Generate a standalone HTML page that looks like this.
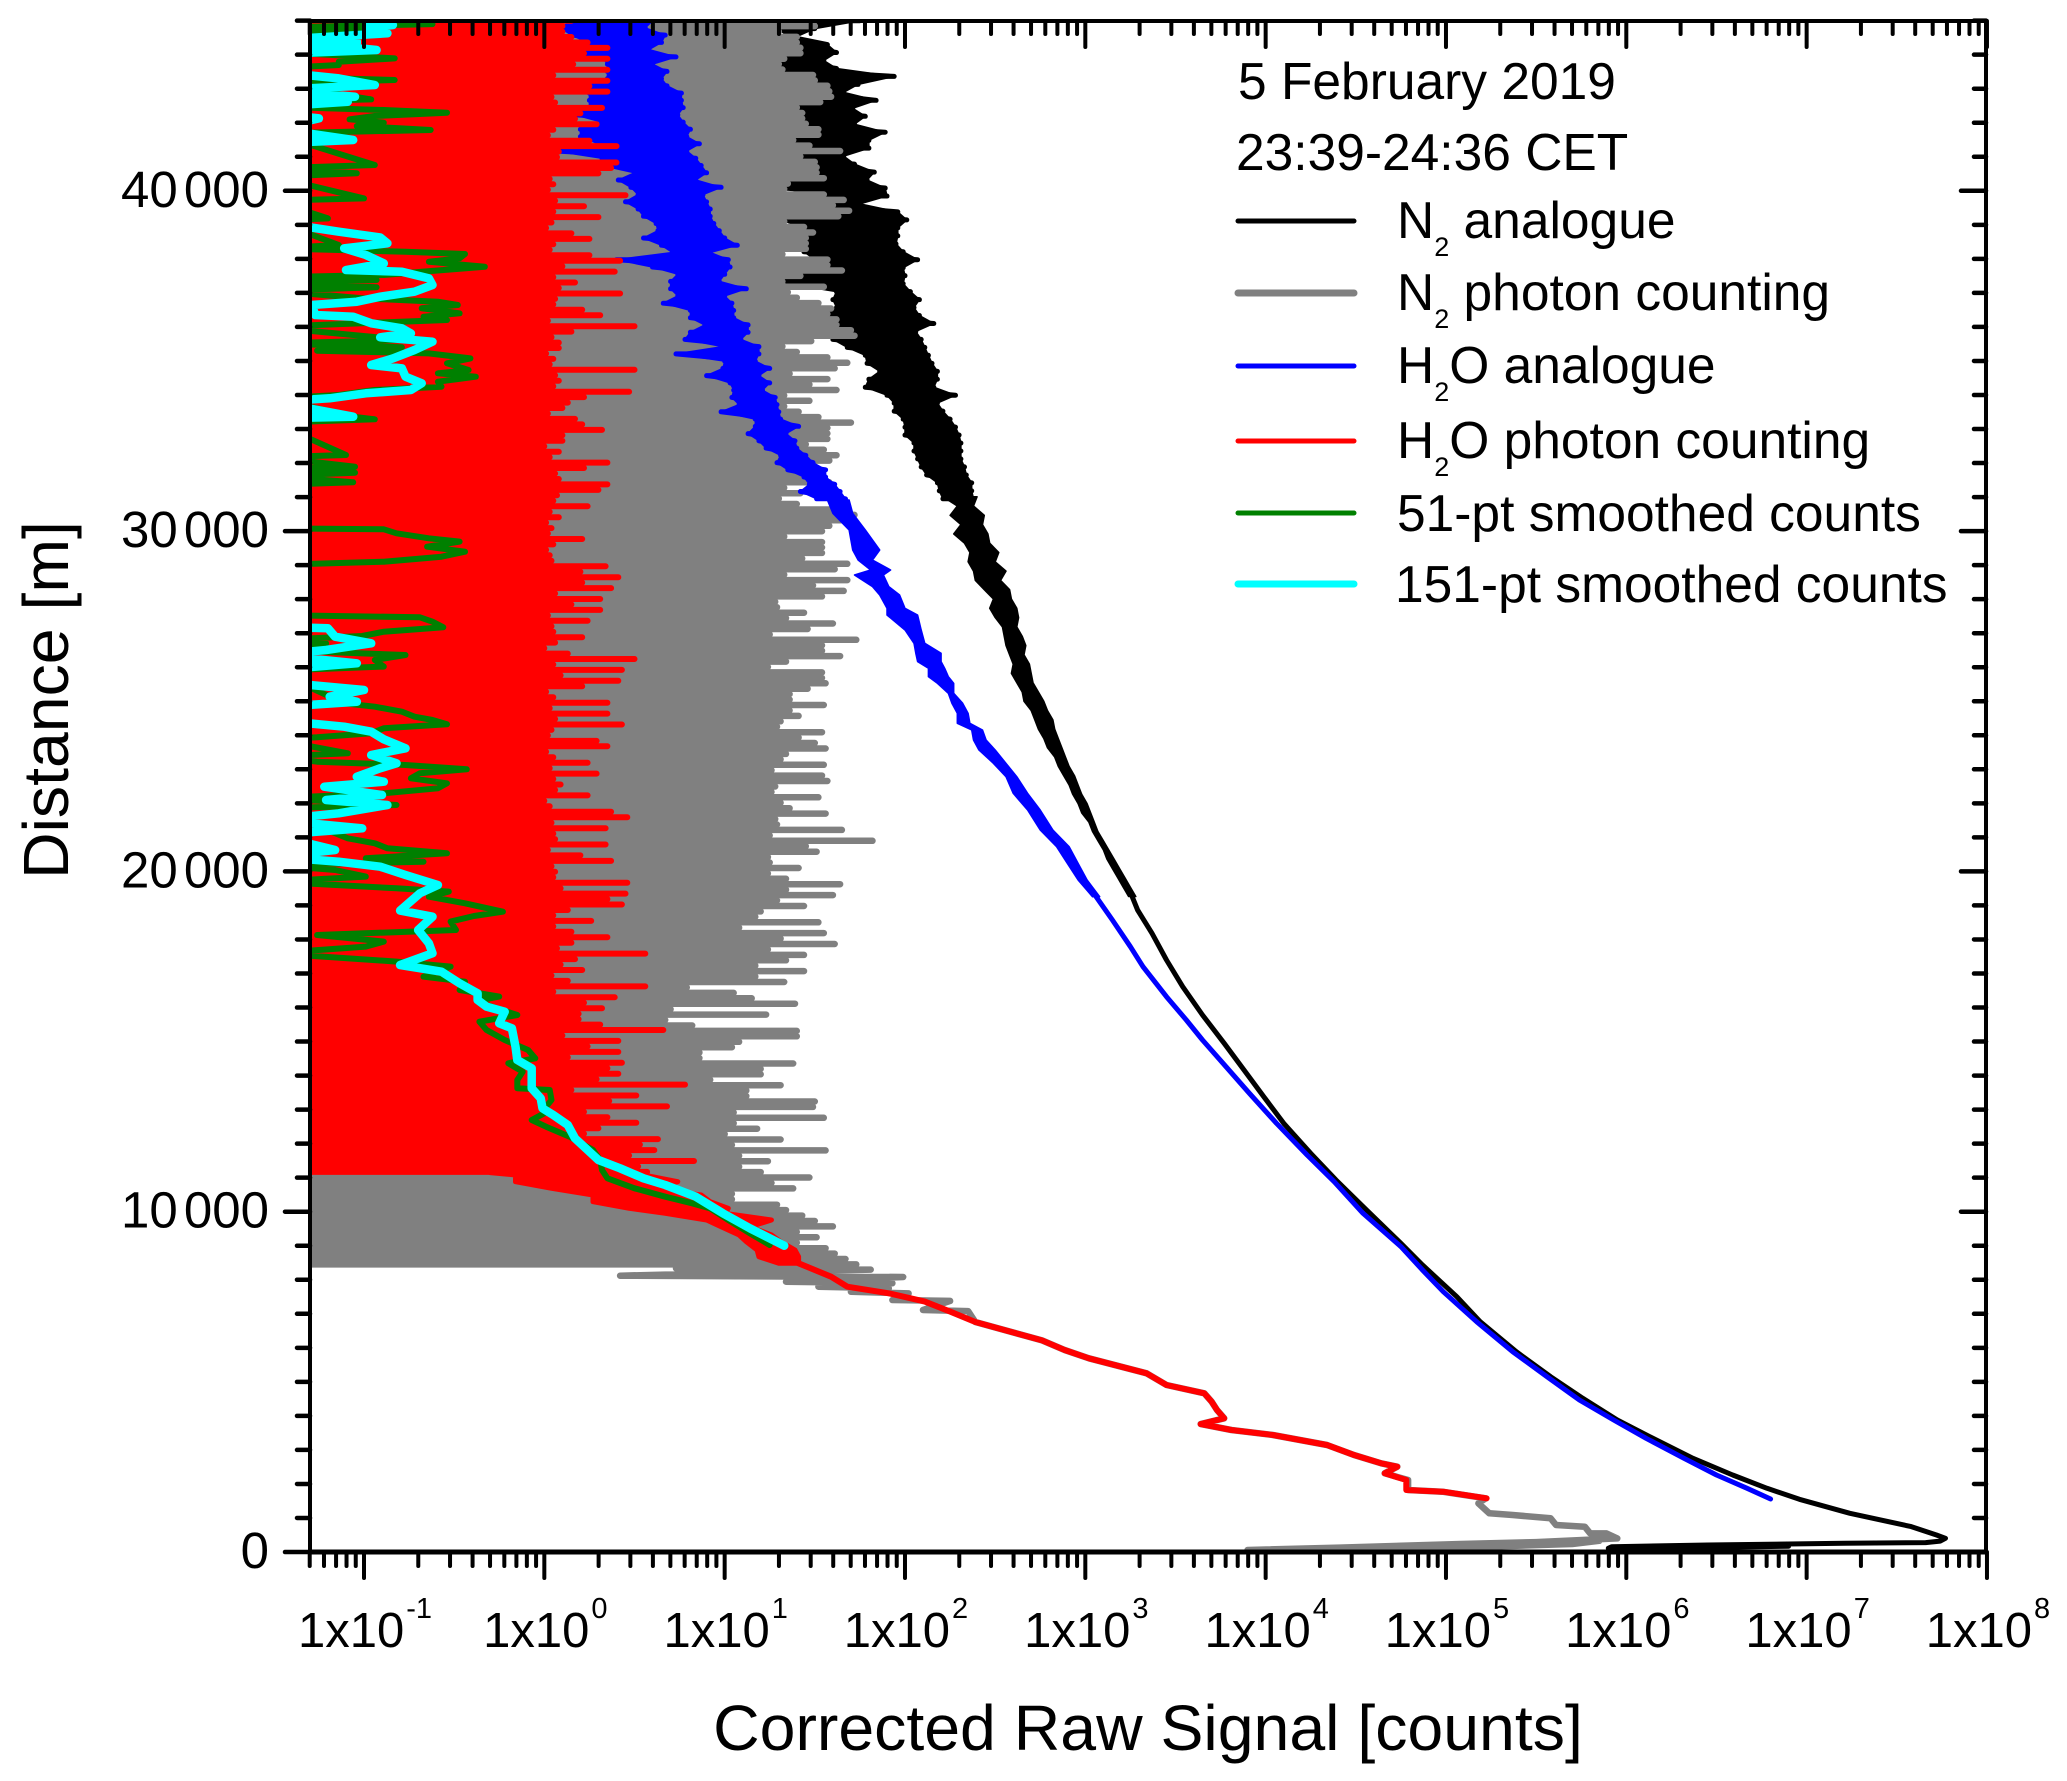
<!DOCTYPE html>
<html lang="en">
<head>
<meta charset="utf-8">
<title>Corrected Raw Signal vs Distance</title>
<style>
html,body{margin:0;padding:0;background:#fff}
svg{display:block}
text{font-family:"Liberation Sans",Arial,sans-serif;fill:#000}
.series{fill:none;stroke-linecap:round;stroke-linejoin:round}
.band{stroke-linejoin:round}
</style>
</head>
<body>
<svg id="chart" xmlns="http://www.w3.org/2000/svg" width="2067" height="1781" viewBox="0 0 2067 1781">
<defs><clipPath id="plot-clip"><rect x="310" y="20" width="1676" height="1532"/></clipPath></defs>
<rect x="0" y="0" width="2067" height="1781" fill="#fff"/>
<g clip-path="url(#plot-clip)">
<path id="b-black" class="band" fill="#000" stroke="#000" stroke-width="1.5"/>
<path id="s-black" class="series" stroke="#000" stroke-width="5"/>
<path id="s-gray" class="series" stroke="#808080" stroke-width="6.5"/>
<path id="b-blue" class="band" fill="#0000ff" stroke="#0000ff" stroke-width="1.5"/>
<path id="s-blue" class="series" stroke="#0000ff" stroke-width="5"/>
<path id="b-red" class="band" fill="#ff0000" stroke="#ff0000" stroke-width="5"/>
<path id="s-red" class="series" stroke="#ff0000" stroke-width="6"/>
<path id="s-green" class="series" stroke="#008000" stroke-width="6"/>
<path id="s-cyan" class="series" stroke="#00ffff" stroke-width="8.5"/>
</g>
<g id="axes"></g>
<rect x="310" y="21" width="1676" height="1531" fill="none" stroke="#000" stroke-width="4"/>
<line x1="308" y1="1552" x2="1988" y2="1552" stroke="#000" stroke-width="5"/>
<text x="1148" y="1750" font-size="64.4" text-anchor="middle">Corrected Raw Signal [counts]</text>
<text transform="translate(68,700) rotate(-90)" font-size="64.4" text-anchor="middle">Distance [m]</text>
<g>
<text x="1238" y="99" font-size="51.5">5 February 2019</text>
<text x="1236" y="170" font-size="51.5">23:39-24:36 CET</text>
<line x1="1238" y1="221" x2="1354" y2="221" stroke="#000" stroke-width="5" stroke-linecap="round"/>
<text x="1397" y="238" font-size="51.5">N<tspan font-size="27" dy="18">2</tspan><tspan dy="-18"> analogue</tspan></text>
<line x1="1238" y1="293" x2="1354" y2="293" stroke="#808080" stroke-width="7" stroke-linecap="round"/>
<text x="1397" y="310" font-size="51.5">N<tspan font-size="27" dy="18">2</tspan><tspan dy="-18"> photon counting</tspan></text>
<line x1="1238" y1="366" x2="1354" y2="366" stroke="#0000ff" stroke-width="5" stroke-linecap="round"/>
<text x="1397" y="383" font-size="51.5">H<tspan font-size="27" dy="18">2</tspan><tspan dy="-18">O analogue</tspan></text>
<line x1="1238" y1="441" x2="1354" y2="441" stroke="#ff0000" stroke-width="5" stroke-linecap="round"/>
<text x="1397" y="458" font-size="51.5">H<tspan font-size="27" dy="18">2</tspan><tspan dy="-18">O photon counting</tspan></text>
<line x1="1238" y1="513" x2="1354" y2="513" stroke="#008000" stroke-width="5" stroke-linecap="round"/>
<text x="1397" y="531" font-size="51.5">51-pt smoothed counts</text>
<line x1="1238" y1="584" x2="1354" y2="584" stroke="#00ffff" stroke-width="7" stroke-linecap="round"/>
<text x="1395" y="602" font-size="51.5">151-pt smoothed counts</text>
</g>
</svg>
<script>
// Tick data
const xTickExponents = [-1,0,1,2,3,4,5,6,7,8];
const xMinorMultipliers = [2,3,4,5,6,7,8,9];
const yTickValues = [0,10000,20000,30000,40000];
const yTickLabels = ['0','10 000','20 000','30 000','40 000'];

// All signal values are log10(counts). -1.5 = zero counts, off-scale left.
// N2 photon counting: upper envelope per range bin, 45000 m to 8450 m
const n2PhotonHigh = [1.50,1.50,1.30,1.40,1.40,1.42,1.42,1.33,1.30,1.32,1.49,1.50,1.57,1.58,1.59,1.53,1.40,1.43,1.43,1.45,1.52,1.52,1.38,1.47,1.64,1.42,1.50,1.51,1.51,1.55,1.35,1.33,1.55,1.66,1.60,1.69,1.63,1.33,1.44,1.49,1.45,1.45,1.45,1.32,1.57,1.57,1.65,1.42,1.32,1.55,1.35,1.40,1.52,1.59,1.57,1.62,1.62,1.70,1.72,1.48,1.32,1.40,1.57,1.68,1.61,1.36,1.57,1.47,1.62,1.33,1.47,1.33,1.41,1.52,1.70,1.57,1.57,1.57,1.45,1.55,1.62,1.58,1.44,1.50,1.53,1.58,1.33,1.42,1.30,1.40,1.64,1.72,1.66,1.58,
1.54,1.33,1.54,1.54,1.54,1.43,1.68,1.61,1.33,1.68,1.49,1.66,1.54,1.28,1.29,1.44,1.34,1.60,1.46,1.25,1.73,1.54,1.54,1.64,1.34,1.24,1.54,1.54,1.56,1.46,1.36,1.36,1.55,1.36,1.41,1.31,1.29,1.54,1.41,1.50,1.56,1.34,1.31,1.55,1.26,1.54,1.57,1.28,1.26,1.52,1.31,1.36,1.56,1.28,1.29,1.65,1.25,1.82,1.45,1.51,1.24,1.25,1.41,1.24,1.34,1.64,1.34,1.60,1.29,1.44,1.20,1.17,1.52,1.08,1.55,1.31,1.61,1.24,1.44,1.34,1.17,1.44,1.17,1.33,0.79,1.05,1.15,1.39,0.70,1.23,0.67,0.82,1.40,
1.40,1.08,1.04,0.86,0.86,1.38,1.20,1.20,0.92,1.31,1.12,1.12,1.50,1.49,1.05,1.55,1.05,1.18,1.00,1.31,1.04,1.56,1.08,1.24,1.08,1.20,1.47,1.26,1.38,1.04,1.04,1.29,1.34,1.43,1.50,1.60,1.40,1.51,1.40,1.56,1.61,1.67,1.73];
// N2 photon counting below the filled region
const n2PhotonLineDistance = [8336,8300,8120,8080,7944,7900,7797,7750,7650,7600,7405,7380,7110,7080,6760,6218,5936,5691,5250,4907,4663,4420,4173,3928,3760,3585,3438,3145,2850,2606,2508,2312,2116,1822,1773,1577,1430,1136,1087,989,793,744,548,548,401,290,235,130,59,80,150,235,330];
const n2PhotonLineLog = [0.73,1.81,0.42,1.99,1.34,1.93,1.52,1.91,1.70,2.02,1.93,2.25,2.10,2.35,2.39,2.76,2.885,3.02,3.34,3.45,3.66,3.70,3.73,3.77,3.64,3.81,4.04,4.34,4.49,4.64,4.73,4.66,4.79,4.79,4.98,5.22,5.18,5.24,5.37,5.58,5.61,5.77,5.80,5.89,5.95,5.5,5.08,4.41,3.90,4.6,5.2,5.7,5.85];

// H2O photon counting: upper envelope per range bin, 45000 m to 11170 m
const h2oPhotonHigh = [.15,.10,.10,.15,.24,.35,.22,.35,.16,.35,.05,.35,.25,.35,.04,.06,.32,.20,.17,.29,.05,.02,.25,.40,.08,.07,.40,.37,.30,.03,.05,.02,.45,.06,.22,.05,.30,.04,.01,.15,.25,.05,.03,.25,.42,.10,.39,.05,.17,.08,.42,.06,.05,.21,.31,.02,.50,.15,.04,.08,.08,.01,.05,.03,.50,.06,.08,.05,.47,.22,.13,.10,.02,.17,.21,.32,.10,.10,.00,.08,.03,.35,.22,.06,.08,.35,.30,.07,.05,.24,.03,.08,.01,.04,
.02,.21,.05,.01,.03,.04,.34,.20,.41,.21,.37,.06,.31,.15,.31,.02,.24,.04,.05,.21,.06,.00,.13,.50,.05,.43,.09,.41,.21,.01,.05,.35,.03,.35,.06,.43,.04,.02,.29,.35,.01,.05,.24,.03,.29,.05,.09,.06,.24,.00,.03,.37,.46,.04,.34,.05,.06,.34,.02,.20,.37,.04,.06,.05,.46,.09,.45,.35,.43,.13,.05,.26,.05,.15,.35,.15,.07,.56,.17,.09,.21,.04,.13,.56,.05,.39,.22,.32,.19,
.19,.31,.66,.10,.41,.24,.41,.13,.43,.35,.41,.29,.78,.15,.51,.36,.68,.22,.35,.51,.30,.22,.63,.53,.61,.47,.83,.52,.57];
// H2O photon counting: noisy band below the filled region
const h2oPhotonBandDistance = [11150,11079,10883,10687,10491,10295,10099,9952,9756,9560,9315,9120,8875,8679,8483];
const h2oPhotonBandLow = [-.30,-.16,-.16,.04,.27,.27,.47,.67,.90,.98,1.08,1.12,1.18,1.19,1.30];
const h2oPhotonBandHigh = [.55,.55,.74,.60,.87,.92,1.02,1.00,1.26,1.14,1.26,1.31,1.39,1.41,1.41];
// H2O photon counting: single line
const h2oPhotonLineDistance = [8483,8091,7797,7601,7357,7063,6760,6218,5936,5691,5250,4907,4663,4420,4173,3928,3760,3585,3438,3145,2850,2606,2508,2312,2116,1822,1773,1577];
const h2oPhotonLineLog = [1.41,1.59,1.68,1.91,2.11,2.25,2.39,2.76,2.885,3.02,3.34,3.45,3.66,3.70,3.73,3.77,3.64,3.81,4.04,4.34,4.49,4.64,4.73,4.66,4.78,4.78,4.985,5.225];

// H2O analogue: noisy band, 45000 m to 30950 m
const h2oAnalogueLow = [.15,.09,.15,.24,-.25,.32,.35,.35,.35,.27,.25,.25,.25,.17,.32,.20,.20,.30,.06,.32,.32,.50,.41,.48,.52,.45,.52,.55,.62,.63,.55,.65,.71,.40,.60,.74,.70,.70,.74,.66,.81,.81,.89,.81,.78,.99,.73,1.0,.99,.90,1.03,1.05,1.04,1.08,.98,1.17,1.17,1.13,1.19,1.23,1.31,1.29,1.35,1.44,1.47,1.42,1.51];
const h2oAnalogueHigh = [.60,.56,.67,.65,.58,.73,.60,.68,.65,.68,.76,.76,.77,.74,.77,.81,.79,.86,.79,.84,.87,.90,.84,.98,.88,.90,.92,.92,.94,.97,1.00,1.07,.92,1.02,1.03,1.0,.97,1.12,1.0,1.04,1.05,1.05,1.13,1.13,1.09,1.19,1.19,1.17,1.25,1.19,1.25,1.21,1.28,1.29,1.30,1.31,1.41,1.34,1.39,1.40,1.45,1.49,1.56,1.56,1.61,1.64,1.67];
// H2O analogue: narrower band, 30914 m to 19258 m
const h2oAnalogueMidDistance = [30914,30523,30033,29445,29151,28857,28710,28368,28123,27731,27535,27094,26702,26409,26164,25968,25723,25527,25233,24939,24646,24352,24156,23862,23568,23176,22784,22295,21805,21217,20728,20238,19748,19258];
const h2oAnalogueMidLow = [1.57,1.60,1.69,1.71,1.74,1.81,1.72,1.82,1.86,1.90,1.90,2.00,2.05,2.06,2.07,2.13,2.13,2.18,2.24,2.26,2.29,2.29,2.37,2.38,2.41,2.49,2.56,2.60,2.68,2.75,2.84,2.90,2.96,3.04];
const h2oAnalogueMidHigh = [1.69,1.71,1.78,1.86,1.82,1.92,1.88,1.91,1.97,2.00,2.07,2.09,2.11,2.20,2.20,2.22,2.24,2.27,2.27,2.32,2.35,2.36,2.43,2.45,2.50,2.56,2.62,2.68,2.75,2.82,2.91,2.96,3.01,3.08];
// H2O analogue: smooth lower part
const h2oAnalogueLineDistance = [19258,18572,17788,17200,16319,15633,15045,14262,13478,12597,11666,10883,9952,8973,8287,7650,6768,5887,5152,4466,3879,3340,2752,2262,1871,1557];
const h2oAnalogueLineLog = [3.06,3.15,3.25,3.32,3.45,3.56,3.65,3.78,3.91,4.06,4.23,4.38,4.54,4.75,4.87,4.985,5.17,5.37,5.56,5.74,5.93,6.11,6.32,6.50,6.67,6.80];

// N2 analogue: noisy band, 45000 m to 30950 m
const n2AnalogueHigh = [1.75,1.50,1.40,1.57,1.62,1.55,1.62,1.94,1.74,1.66,1.84,1.71,1.78,1.72,1.89,1.80,1.80,1.66,1.72,1.83,1.79,1.89,1.90,1.75,1.96,2.01,1.96,1.96,1.95,1.99,2.07,1.99,2.0,1.99,2.03,2.08,2.05,2.08,2.16,2.06,2.09,2.11,2.13,2.15,2.18,2.18,2.16,2.28,2.18,2.21,2.25,2.28,2.30,2.31,2.31,2.31,2.33,2.34,2.37,2.37,2.38];
const n2AnalogueLow = [1.26,1.30,1.35,1.35,1.35,1.33,1.20,1.23,1.40,1.45,1.45,1.33,1.42,1.20,1.36,1.40,1.45,1.15,1.45,1.50,1.33,1.33,1.50,1.45,1.31,1.31,1.44,1.44,1.44,1.44,1.50,1.50,1.26,1.35,1.62,1.60,1.62,1.55,1.48,1.65,1.60,1.68,1.78,1.79,1.86,1.80,1.78,1.90,1.94,1.94,1.99,2.0,2.0,2.05,2.05,2.07,2.09,2.12,2.18,2.19,2.21];
// N2 analogue: narrower band, 31012 m to 19261 m
const n2AnalogueMidLow = [2.21,2.29,2.25,2.31,2.27,2.33,2.36,2.35,2.38,2.39,2.44,2.49,2.47,2.50,2.54,2.55,2.56,2.58,2.60,2.59,2.62,2.65,2.66,2.70,2.72,2.74,2.77,2.79,2.83,2.85,2.88,2.91,2.93,2.96,2.98,3.02,3.04,3.07,3.10,3.12,3.15,3.18,3.21,3.24];
const n2AnalogueMidHigh = [2.40,2.38,2.44,2.43,2.46,2.47,2.52,2.50,2.56,2.53,2.58,2.59,2.62,2.63,2.62,2.65,2.67,2.66,2.69,2.70,2.71,2.74,2.77,2.79,2.82,2.83,2.85,2.87,2.89,2.91,2.94,2.96,2.98,3.01,3.03,3.05,3.07,3.10,3.13,3.16,3.19,3.22,3.25,3.28];
// N2 analogue: smooth lower part and near-range peak
const n2AnalogueLineDistance = [19258,18865,18180,17396,16613,15780,14948,14164,13380,12597,11715,10931,10050,9071,8434,7503,6768,5887,5152,4515,3879,3389,2752,2262,1871,1548,1137,745,500,402,320,275,255,206,157,110,130,170];
const n2AnalogueLineLog = [3.26,3.29,3.37,3.45,3.54,3.65,3.77,3.88,3.99,4.10,4.25,4.39,4.56,4.75,4.87,5.06,5.19,5.39,5.58,5.76,5.95,6.13,6.37,6.59,6.78,6.96,7.24,7.58,7.72,7.77,7.74,7.66,7.21,6.45,5.92,5.9,6.4,6.9];

// 51-point smoothed counts
const smooth51Distance = [45000,44900,44800,44740,44660,44235,44156,44088,43892,43794,43696,43598,43304,43255,43157,42687,42619,42550,42472,42374,42295,42197,42100,42000,41904,41786,41688,40757,40660,40513,40415,39778,39710,39190,39122,38407,38309,38211,38142,38015,37917,37770,37623,37525,37457,37378,37280,37163,37065,36840,36742,36644,36546,36399,36301,36203,36125,36056,35987,35615,35517,35400,35302,35223,35076,34930,34734,34636,34538,34391,34244,34146,34000,33901,33362,33284,33186,32236,32168,31893,31815,31717,31619,31433,31354,
30081,30052,29935,29788,29690,29543,29396,29249,29102,29004,27535,27466,27339,27172,27045,26918,26800,26702,26506,26359,26212,26017,25899,24939,24841,24694,24547,24449,24322,24204,24058,23940,23881,23470,23372,23225,23127,23000,22882,22735,22588,22441,22294,22147,21952,21854,20972,20825,20678,20531,20384,20286,20188,20041,19846,19699,19503,19405,19258,19062,18817,18690,18524,18279,18132,17936,17789,17593,17348,17201,16907,16760,16515,16320,16221,
16074,15780,15584,15340,15046,14752,14507,14360,14115,13870,13625,13576,13283,13087,12891,12695,12499,12205,11813,11519,11226,10981,10687,10442,10246,10099,9756,9365,9022];
const smooth51Log = [-.64,-.62,-1.5,-.96,-1.5,-1.16,-1.16,-1.5,-.83,-1.14,-1.14,-1.5,-1.14,-.83,-1.5,-.96,-1.5,-1.26,-1.5,-.89,-.54,-.94,-1.08,-.89,-1.04,-.63,-1.5,-.94,-1.5,-1.04,-1.5,-1.0,-1.5,-1.2,-1.5,-1.14,-1.5,-.77,-.44,-.47,-.64,-.33,-.68,-.89,-1.5,-.93,-1.5,-.93,-1.5,-1.01,-.59,-.48,-.68,-.47,-.67,-.54,-.94,-1.26,-1.5,-.77,-1.5,-.79,-1.26,-.64,-.41,-.54,-.42,-.59,-.38,-.59,-.57,-.94,-1.14,-1.5,-1.06,-.94,-1.5,-1.1,-1.5,-1.05,-1.5,-1.05,-1.5,-1.06,-1.5,
-1.5,-.89,-.82,-.64,-.47,-.65,-.44,-.57,-.89,-1.5,-1.5,-.69,-.62,-.56,-.89,-1.01,-1.5,-1.21,-1.5,-.77,-.94,-.89,-1.5,-1.11,-.94,-.79,-.72,-.62,-.54,-.89,-.96,-1.26,-1.5,-1.09,-1.5,-1.26,-.77,-.43,-.69,-.74,-.54,-.59,-.89,-1.5,-.82,-1.5,-1.09,-.94,-.87,-.54,-.99,-.67,-1.5,-1.16,-.99,-1.5,-.82,-.53,-.64,-.44,-.23,-.39,-.52,-.49,-1.26,-.89,-.99,-1.5,-.82,-.52,-.67,-.44,-.47,-.25,-.35,
-.32,-.15,-.36,-.32,-.22,-.09,-.05,-.20,-.12,-.15,-.15,.03,.04,.01,0,-.07,.01,.14,.27,.31,.32,.35,.50,.67,.82,.92,1.02,1.14,1.25];

// 151-point smoothed counts
const smooth151Distance = [45000,44950,44871,44780,44627,44431,44400,44333,44280,44235,44137,44060,43990,43500,43304,43108,42961,42765,42700,42619,42472,42276,42129,41835,41492,41394,39092,38798,38632,38456,38309,38113,37868,37672,37623,37427,37231,37035,36888,36742,36644,36350,36301,36105,35958,35811,35694,35566,35321,35076,34880,34782,34538,34342,34146,34048,33901,33803,33362,33313,
27192,27143,26898,26702,26506,26359,26115,25919,25576,25331,25135,24988,24822,24449,24253,24106,23881,23617,23421,23176,23029,22784,22637,22490,22245,22098,21952,21707,21511,21266,21070,20629,20433,20286,20139,19895,19601,19356,18847,18670,18278,17887,17593,17250,17054,16711,16417,
16221,16025,15878,15535,15388,14850,14458,14213,13625,13332,13038,12842,12548,12156,11764,11519,11275,10981,10785,10442,9952,9511,9002];
const smooth151Log = [-.87,-.98,-.84,-.98,-.87,-1.5,-1.04,-1.04,-1.4,-1.11,-.93,-1.3,-1.5,-1.5,-1.14,-.94,-1.5,-1.05,-1.3,-1.09,-1.5,-1.5,-1.25,-1.5,-1.06,-1.5,-1.5,-1.14,-.91,-.87,-1.11,-.99,-.89,-1.10,-.79,-.64,-.62,-.72,-.91,-1.04,-1.29,-1.27,-1.06,-.96,-.79,-.74,-.91,-.62,-.72,-.84,-.96,-.79,-.77,-.68,-.74,-.99,-1.19,-1.5,-1.06,-1.5,
-1.5,-1.2,-1.16,-.96,-1.21,-1.5,-1.04,-1.5,-1.5,-1.0,-1.19,-1.04,-1.5,-1.5,-1.11,-.96,-.89,-.77,-.96,-.82,-.91,-1.04,-.89,-1.22,-.90,-1.21,-.87,-1.14,-1.5,-1.01,-1.5,-1.16,-1.5,-1.14,-.91,-.77,-.59,-.69,-.80,-.62,-.70,-.64,-.62,-.80,-.57,-.47,-.37,
-.37,-.32,-.22,-.25,-.18,-.16,-.15,-.07,-.07,-.02,-.01,.05,.13,.17,.25,.30,.42,.55,.67,.84,.99,1.14,1.33];

// Axis functions
function xScale(log10Counts){ return 364 + 180.33 * (log10Counts + 1); }
function yScale(distance){ return 1552 - distance * 0.03403; }
const zeroCountLog = -1.5;

function p(log10Counts, distance){ return xScale(log10Counts).toFixed(1) + ' ' + yScale(distance).toFixed(1); }

function rowsPath(highs, top, bottom){
  const step = (top - bottom) / (highs.length - 1);
  let d = '';
  highs.forEach(function(v, i){
    const dist = top - i * step;
    d += 'M' + p(zeroCountLog, dist) + 'L' + p(v, dist);
  });
  return d;
}
function zigzagPath(lows, highs, top, bottom){
  const step = (top - bottom) / (highs.length - 1);
  let d = '';
  highs.forEach(function(v, i){
    const dist = top - i * step;
    d += (i ? 'L' : 'M') + p(v, dist) + 'L' + p(lows[i], dist);
  });
  return d;
}
function bandPath(dists, lows, highs){
  let d = '';
  highs.forEach(function(v, i){
    d += (i ? 'L' : 'M') + p(v, dists[i]);
  });
  for (let i = lows.length - 1; i >= 0; i--) {
    d += 'L' + p(lows[i], dists[i]);
  }
  return d + 'Z';
}
function uniformDistances(count, top, bottom){
  const out = [];
  for (let i = 0; i < count; i++) { out.push(top - i * (top - bottom) / (count - 1)); }
  return out;
}
function linePath(dists, logs, joined){
  let d = '';
  dists.forEach(function(dist, i){
    d += ((i || joined) ? 'L' : 'M') + p(logs[i], dist);
  });
  return d;
}

document.getElementById('b-black').setAttribute('d',
  bandPath(uniformDistances(n2AnalogueHigh.length, 45000, 30950), n2AnalogueLow, n2AnalogueHigh) +
  bandPath(uniformDistances(n2AnalogueMidHigh.length, 31012, 19261), n2AnalogueMidLow, n2AnalogueMidHigh));
document.getElementById('s-black').setAttribute('d', zigzagPath(n2AnalogueLow, n2AnalogueHigh, 45000, 30950) + linePath(n2AnalogueLineDistance, n2AnalogueLineLog, false));
document.getElementById('s-gray').setAttribute('d', rowsPath(n2PhotonHigh, 45000, 8450) + linePath(n2PhotonLineDistance, n2PhotonLineLog, false));
document.getElementById('b-blue').setAttribute('d',
  bandPath(uniformDistances(h2oAnalogueHigh.length, 45000, 30950), h2oAnalogueLow, h2oAnalogueHigh) +
  bandPath(h2oAnalogueMidDistance, h2oAnalogueMidLow, h2oAnalogueMidHigh));
document.getElementById('s-blue').setAttribute('d', zigzagPath(h2oAnalogueLow, h2oAnalogueHigh, 45000, 30950) + linePath(h2oAnalogueLineDistance, h2oAnalogueLineLog, false));
document.getElementById('b-red').setAttribute('d', bandPath(h2oPhotonBandDistance, h2oPhotonBandLow, h2oPhotonBandHigh));
document.getElementById('s-red').setAttribute('d', rowsPath(h2oPhotonHigh, 45000, 11170) + linePath(h2oPhotonLineDistance, h2oPhotonLineLog, false));
document.getElementById('s-green').setAttribute('d', linePath(smooth51Distance, smooth51Log, false));
document.getElementById('s-cyan').setAttribute('d', linePath(smooth151Distance, smooth151Log, false));

// Axes
const NS = 'http://www.w3.org/2000/svg';
const axes = document.getElementById('axes');
function tick(x1, y1, x2, y2, width, name){
  const el = document.createElementNS(NS, 'line');
  el.setAttribute('x1', x1);
  el.setAttribute('y1', y1);
  el.setAttribute('x2', x2);
  el.setAttribute('y2', y2);
  el.setAttribute('stroke', '#000');
  el.setAttribute('stroke-width', width);
  el.setAttribute('stroke-linecap', 'round');
  
  
  axes.appendChild(el);
}
// x ticks (bottom outward, top inward)
xTickExponents.forEach(function(e){
  const x = xScale(e);
  tick(x, 1552, x, 1578, 4, 'x-major-tick');
  tick(x, 21, x, 47, 4, 'x-top-major-tick');
});
[-2].concat(xTickExponents).forEach(function(e){
  if (e >= 8) return;
  xMinorMultipliers.forEach(function(m){
    const lg = e + Math.log10(m);
    if (lg < -1.302) return;
    const x = xScale(lg);
    tick(x, 1552, x, 1566, 4, 'x-minor-tick');
    tick(x, 21, x, 34, 4, 'x-top-minor-tick');
  });
});
// y ticks (left outward, right inward)
for (let k = 0; k <= 45; k++) {
  const y = yScale(k * 1000);
  const major = k % 10 === 0;
  tick(major ? 285 : 297, y, 310, y, 4.5, major ? 'y-major-tick' : 'y-minor-tick');
  tick(major ? 1961 : 1974, y, 1986, y, 4.5, major ? 'y-right-major-tick' : 'y-right-minor-tick');
}
// x tick labels
xTickExponents.forEach(function(e){
  const t = document.createElementNS(NS, 'text');
  t.setAttribute('x', xScale(e) + 1);
  t.setAttribute('y', 1647);
  t.setAttribute('font-size', '49');
  t.setAttribute('text-anchor', 'middle');
  
  
  const base = document.createElementNS(NS, 'tspan');
  base.textContent = '1x10';
  const sup = document.createElementNS(NS, 'tspan');
  sup.setAttribute('font-size', '29');
  sup.setAttribute('dy', '-29');
  sup.setAttribute('dx', '2');
  sup.textContent = String(e);
  t.appendChild(base);
  t.appendChild(sup);
  axes.appendChild(t);
});
// y tick labels
yTickValues.forEach(function(v, i){
  const t = document.createElementNS(NS, 'text');
  t.setAttribute('x', 269);
  t.setAttribute('y', yScale(v) + 16);
  t.setAttribute('font-size', '51');
  t.setAttribute('text-anchor', 'end');
  t.setAttribute('word-spacing', '-8');
  
  
  t.textContent = yTickLabels[i];
  axes.appendChild(t);
});
</script>
</body>
</html>
